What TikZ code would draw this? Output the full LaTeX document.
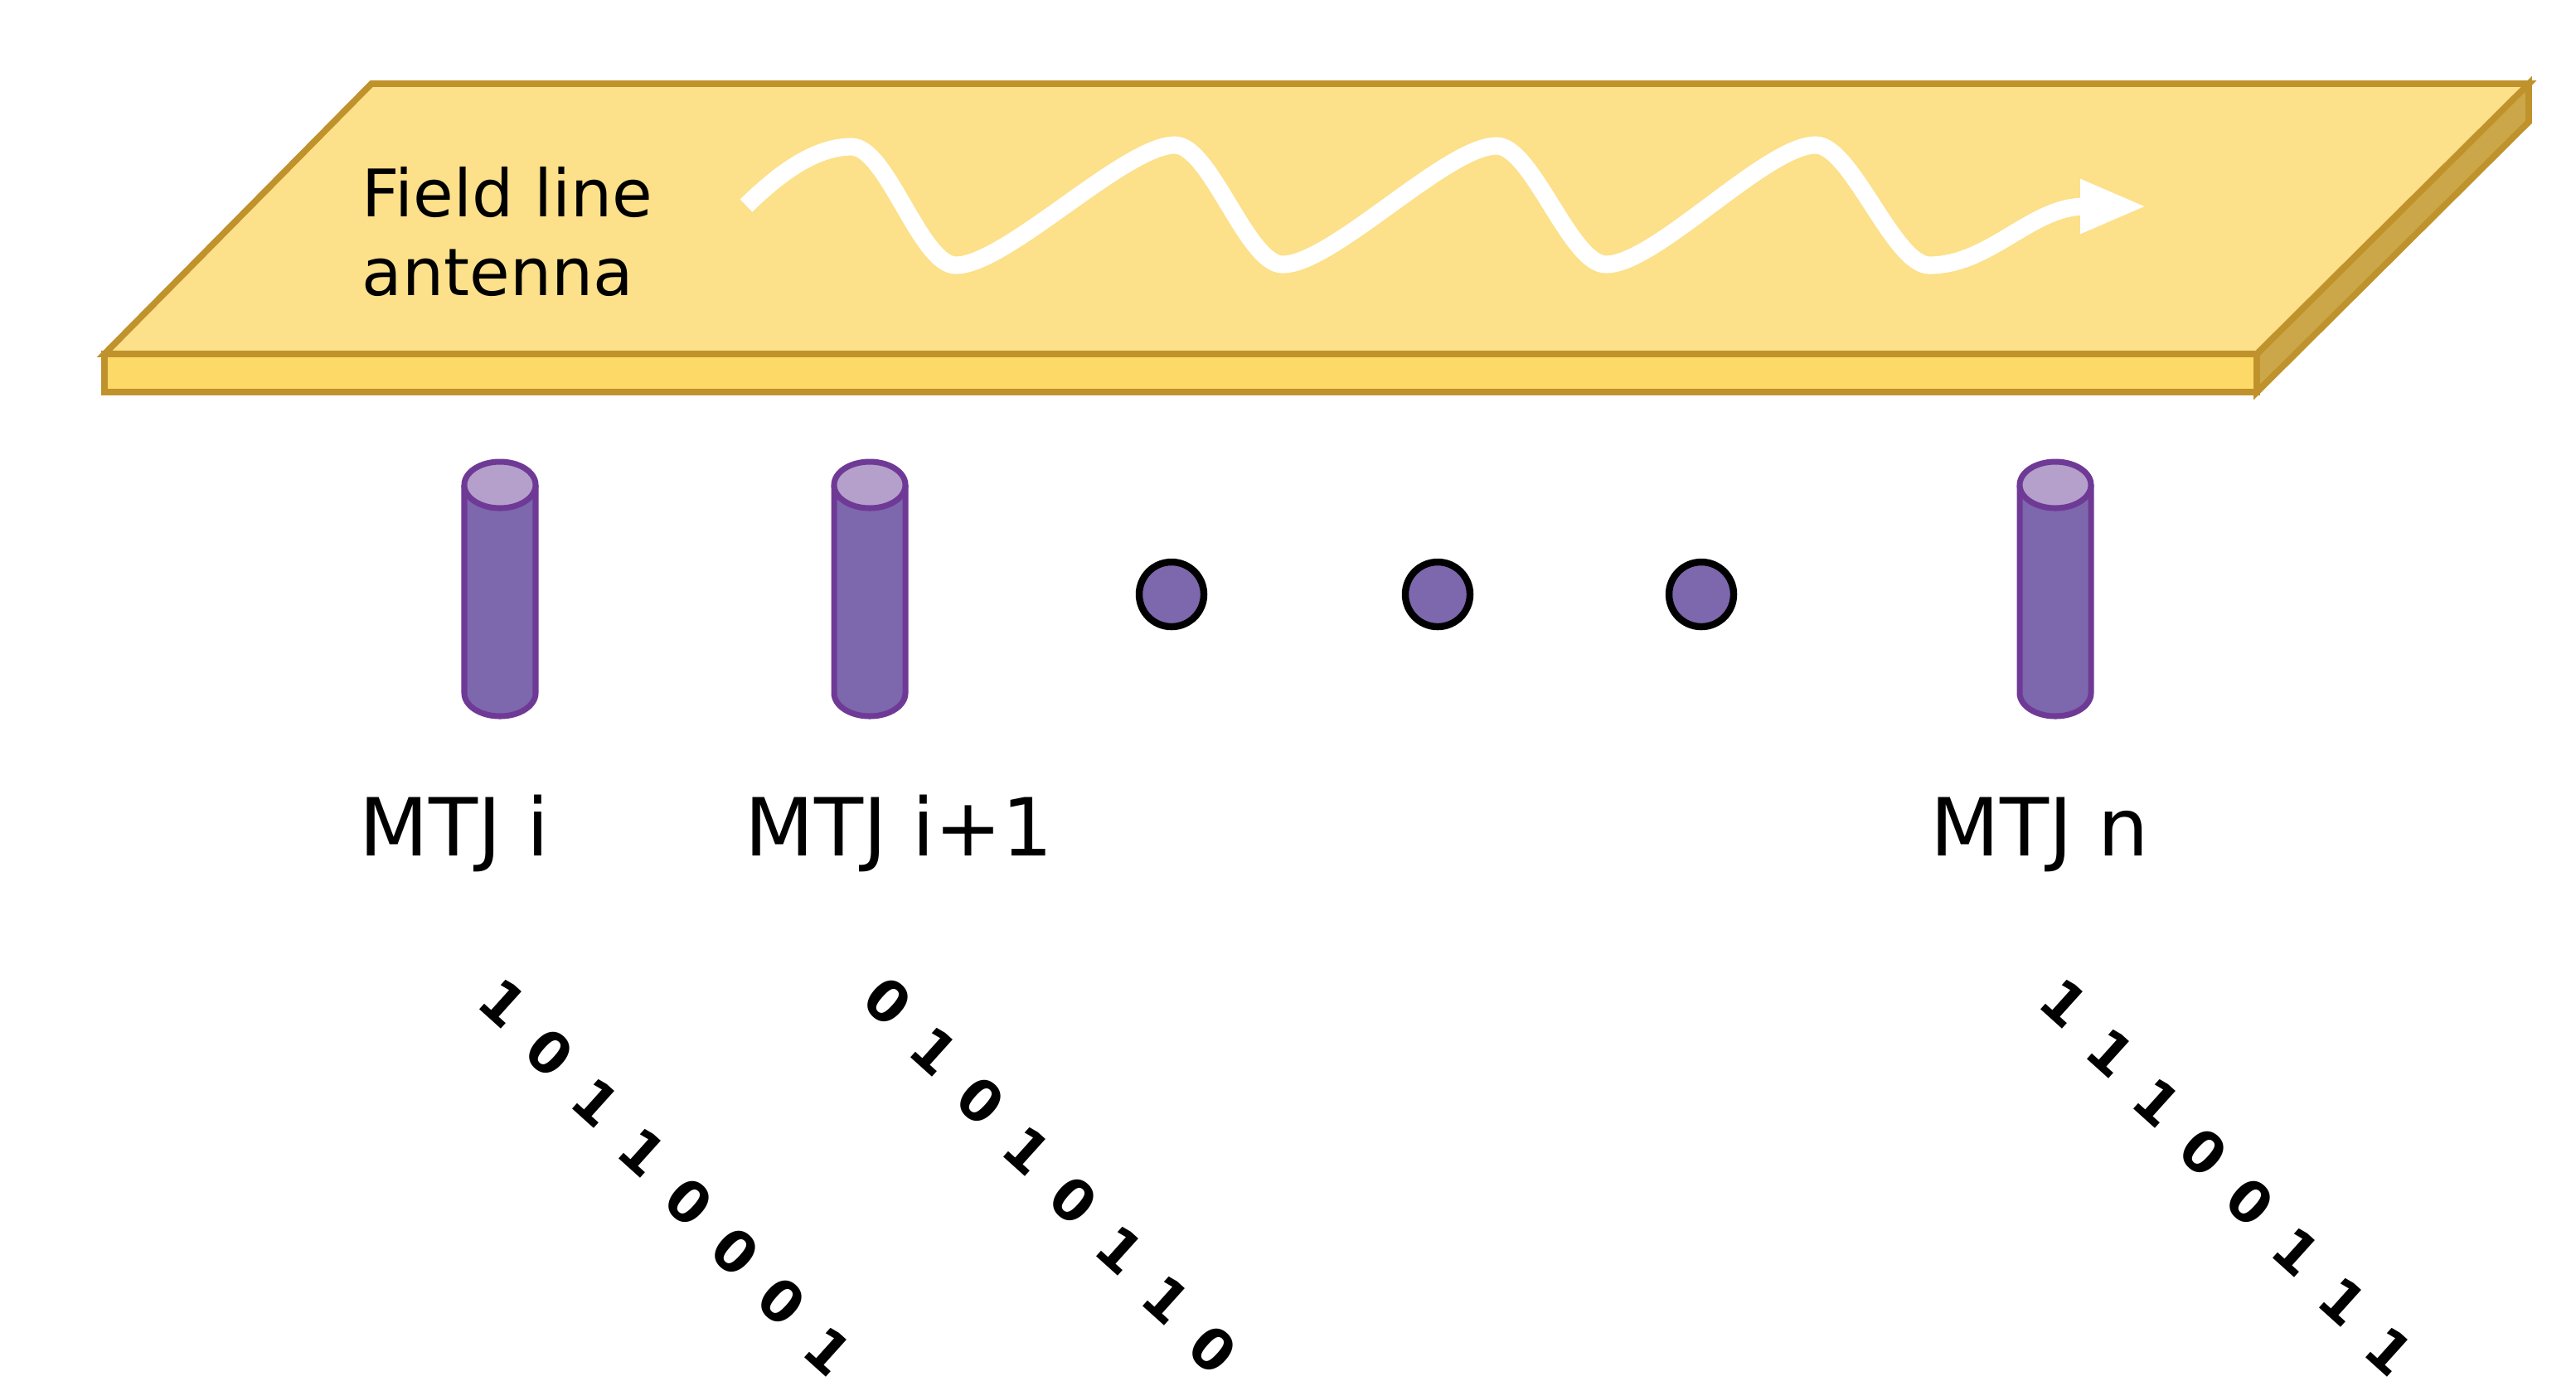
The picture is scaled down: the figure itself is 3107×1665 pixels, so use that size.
\documentclass[tikz,border=0pt]{standalone}
\usepackage{fontspec}
\setmainfont{DejaVu Sans}
\usetikzlibrary{arrows.meta,calc}

\definecolor{goldline}{HTML}{C0922B}
\definecolor{goldtop}{HTML}{FCE08A}
\definecolor{goldfront}{HTML}{FDD968}
\definecolor{goldside}{HTML}{CBA74A}
\definecolor{mtjline}{HTML}{6F3A96}
\definecolor{mtjbody}{HTML}{7D67AD}
\definecolor{mtjtop}{HTML}{B4A0CB}

\tikzset{
  slab/.style={draw=goldline, line width=2.2pt, line join=miter},
  wave/.style={draw=white, line width=6pt, -{Triangle[length=23pt,width=17pt]}},
  mtj/.style={draw=mtjline, line width=2pt, fill=mtjbody},
  gap dot/.style={circle, draw=black, line width=2.4pt, fill=mtjbody, minimum size=0.78cm, inner sep=0pt},
  mtjname/.style={font=\fontsize{27.5}{33}\selectfont, inner sep=0pt, anchor=base west},
  bit/.style={font=\bfseries\fontsize{19.5}{19.5}\selectfont, inner sep=0pt, rotate=-42},
}

\begin{document}
\begin{tikzpicture}[x=0.01cm,y=-0.01cm]
	\path[use as bounding box, fill=white] (0,0) rectangle (3107,1665);
	
	% antenna slab
	\coordinate (tl) at (448,101);
	\coordinate (tr) at (3050,101);
	\coordinate (br) at (2722,427);
	\coordinate (bl) at (126,427);
	\draw[slab, fill=goldside] (tr) -- ++(0,46) -- ($(br)+(0,46)$) -- (br) -- cycle;
	\draw[slab, fill=goldfront] (bl) rectangle ($(br)+(0,46)$);
	\draw[slab, fill=goldtop] (tl) -- (tr) -- (br) -- (bl) -- cycle;
	
	\node[font=\fontsize{22.5}{27}\selectfont, align=left, inner sep=0pt, anchor=north west] (antenna) at (436,201) {Field line\\antenna};
	
	% field wave
	\coordinate (wave start) at (900,248);
	\coordinate (wave end) at (2590,249);
	\draw[wave] (wave start) .. controls (935,214) and (980,177) .. (1027,177)
		.. controls (1070,177) and (1110,320) .. (1153,320)
		.. controls (1213,320) and (1357,175) .. (1417,175)
		.. controls (1460,175) and (1504,319) .. (1547,319)
		.. controls (1607,319) and (1745,176) .. (1805,176)
		.. controls (1848,176) and (1894,319) .. (1937,319)
		.. controls (1997,319) and (2130,175) .. (2190,175)
		.. controls (2233,175) and (2284,320) .. (2327,320)
		.. controls (2400,320) and (2450,249) .. (wave end);
	
	% MTJ pillars
	\foreach \cx in {603,1049,2479}{
		\draw[mtj] (\cx-43,585) -- (\cx-43,836) arc[start angle=180, end angle=0, x radius=43, y radius=28] -- (\cx+43,585);
		\draw[mtj, fill=mtjtop] (\cx,585) ellipse[x radius=43, y radius=28];
	}
	
	\foreach \x[count=\k] in {1413,1734,2052}{
		\node[gap dot] (gap\k) at (\x,717) {};
	}
	
	\node[mtjname] (name i) at (433,1032) {MTJ i};
	\node[mtjname] (name j) at (898,1032) {MTJ i+1};
	\node[mtjname] (name n) at (2328,1032) {MTJ n};
	
	% stored bits
	\foreach \b[count=\k from 0] in {1,0,1,1,0,0,0,1}{
		\node[bit] (bi\k) at ({607+56*\k},{1210+60*\k}) {\b};
	}
	\foreach \b[count=\k from 0] in {0,1,0,1,0,1,1,0}{
		\node[bit] (bj\k) at ({1071+56*\k},{1208+60*\k}) {\b};
	}
	\foreach \b[count=\k from 0] in {1,1,1,0,0,1,1,1}{
		\node[bit] (bn\k) at ({2490+56*\k},{1210+60*\k}) {\b};
	}
\end{tikzpicture}
\end{document}
